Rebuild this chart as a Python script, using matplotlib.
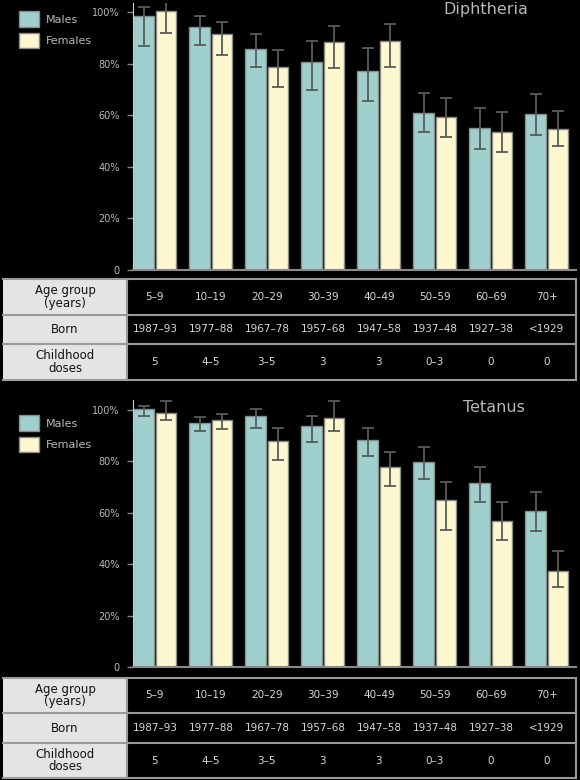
import matplotlib
matplotlib.use("Agg")
import matplotlib.pyplot as plt
import matplotlib.patches as mpatches
import matplotlib.transforms as mtransforms
import numpy as np

# --- Données ---
age_groups = ['5–9', '10–19', '20–29', '30–39', '40–49', '50–59', '60–69', '70+']
born = ['1987–93', '1977–88', '1967–78', '1957–68', '1947–58', '1937–48', '1927–38', '<1929']
doses = ['5', '4–5', '3–5', '3', '3', '0–3', '0', '0']

diph_males = [98.4, 94.2, 85.7, 80.6, 77.1, 60.9, 55.0, 60.5]
diph_males_lo = [87.0, 87.2, 78.7, 69.8, 65.5, 53.5, 46.9, 52.3]
diph_males_hi = [102.0, 98.4, 91.5, 88.8, 86.0, 68.6, 62.8, 68.2]
diph_females = [100.5, 91.5, 78.7, 88.4, 88.8, 59.3, 53.5, 54.7]
diph_females_lo = [92.0, 83.3, 70.9, 78.3, 78.7, 51.6, 45.7, 48.1]
diph_females_hi = [104.0, 96.0, 85.3, 94.6, 95.3, 66.7, 61.2, 61.6]

tet_males = [100.5, 95.0, 97.7, 93.8, 88.3, 79.8, 71.6, 60.7]
tet_males_lo = [97.7, 91.8, 93.0, 87.5, 82.1, 73.2, 64.2, 52.9]
tet_males_hi = [101.5, 97.3, 100.4, 97.7, 93.0, 85.6, 77.8, 68.1]
tet_females = [99.0, 96.1, 87.9, 96.9, 77.8, 65.0, 56.8, 37.4]
tet_females_lo = [96.0, 92.6, 80.5, 91.8, 70.4, 53.3, 49.4, 31.1]
tet_females_hi = [103.5, 98.4, 93.0, 103.5, 83.7, 72.0, 64.2, 45.1]

ytick_vals = [0, 20, 40, 60, 80, 100]
ytick_labels = ['0', '20%', '40%', '60%', '80%', '100%']
row_labels = ['Age group\n(years)', 'Born', 'Childhood\ndoses']

# --- Style ---
W, H = 580, 780
BG = 'black'
C_MALE = '#9fd0ce'
C_FEMALE = '#fdf8cf'
C_EDGE = '#8a8a8a'
C_TXT = '#b8b8b8'

fig = plt.figure(figsize=(W / 100, H / 100), dpi=100, facecolor=BG)

# calque en coordonnées pixels pour les tableaux
over = fig.add_axes([0, 0, 1, 1], zorder=-1)
over.set_xlim(0, W)
over.set_ylim(H, 0)
over.axis('off')


def px_axes(left, top, right, bottom):
    return fig.add_axes([left / W, 1 - bottom / H, (right - left) / W, (bottom - top) / H])


def panel(ax, males, m_lo, m_hi, females, f_lo, f_hi, ymax, title, title_xy, leg_top):
    x = np.arange(len(age_groups))
    off, w = 0.2, 0.37
    males = np.array(males)
    females = np.array(females)
    ax.set_facecolor(BG)
    ax.bar(x - off, males, w, color=C_MALE, edgecolor=C_EDGE, linewidth=1.0, label='Males', zorder=2)
    ax.bar(x + off, females, w, color=C_FEMALE, edgecolor=C_EDGE, linewidth=1.0, label='Females', zorder=2)
    ax.errorbar(x - off, males, yerr=[males - np.array(m_lo), np.array(m_hi) - males],
                fmt='none', ecolor='#5a5a5a', elinewidth=1.3, capsize=4.5, capthick=1.3, zorder=3)
    ax.errorbar(x + off, females, yerr=[females - np.array(f_lo), np.array(f_hi) - females],
                fmt='none', ecolor='#5a5a5a', elinewidth=1.3, capsize=4.5, capthick=1.3, zorder=3)
    ax.set_xlim(-0.39, 7.52)
    ax.set_ylim(0, ymax)
    ax.set_xticks([])
    ax.set_yticks(ytick_vals)
    ax.set_yticklabels(ytick_labels)
    ax.tick_params(axis='y', colors=C_EDGE, labelcolor=C_TXT, labelsize=7, length=4.5, width=1, pad=5)
    for s in ['top', 'right']:
        ax.spines[s].set_visible(False)
    ax.spines['left'].set_color('#d0d0d0')
    ax.spines['bottom'].set_color(C_EDGE)
    ax.spines['bottom'].set_linewidth(1.5)
    fig.text(title_xy[0] / W, 1 - title_xy[1] / H, title, color=C_TXT, fontsize=11.5,
             ha='left', va='top')
    ax.legend(loc='upper left', bbox_to_anchor=(15 / W, 1 - leg_top / H), bbox_transform=fig.transFigure,
              frameon=False, fontsize=8, labelcolor=C_TXT, handlelength=1.8, handleheight=1.75,
              labelspacing=0.55, handletextpad=0.6, borderaxespad=0)


def table(ax, top, rows_h):
    ys = [top]
    for h in rows_h:
        ys.append(ys[-1] + h)
    left, mid, right = 3, 127, 576
    over.add_patch(mpatches.Rectangle((left, ys[0]), mid - left, ys[-1] - ys[0],
                                      facecolor='#e4e4e4', edgecolor='none'))
    blend = mtransforms.blended_transform_factory(ax.transData, over.transData)
    for y in ys:
        over.plot([left, right], [y, y], color='#9a9a9a', lw=1.5)
    over.plot([mid, mid], [ys[0], ys[-1]], color='#9a9a9a', lw=1.5)
    over.plot([right, right], [ys[0], ys[-1]], color='#9a9a9a', lw=1.5)
    for r, (lab, vals) in enumerate(zip(row_labels, [age_groups, born, doses])):
        yc = (ys[r] + ys[r + 1]) / 2
        over.text((left + mid) / 2, yc, lab, ha='center', va='center', fontsize=8.5,
                  color='#111111', linespacing=1.0)
        for i, v in enumerate(vals):
            over.text(i, yc, v, transform=blend, ha='center', va='center', fontsize=7.5, color='#d8d8d8')


ax1 = px_axes(133, 270 - 103.5 * 2.58, 576, 270)
panel(ax1, diph_males, diph_males_lo, diph_males_hi, diph_females, diph_females_lo, diph_females_hi,
      103.5, 'Diphtheria', (443, 2), 7)
table(ax1, 279, [36, 29, 36])

ax2 = px_axes(133, 667 - 104 * 2.57, 576, 667)
panel(ax2, tet_males, tet_males_lo, tet_males_hi, tet_females, tet_females_lo, tet_females_hi,
      104, 'Tetanus', (463, 400), 411)
table(ax2, 678, [35, 30, 35])

fig.savefig('out.png', dpi=100, facecolor=BG)
